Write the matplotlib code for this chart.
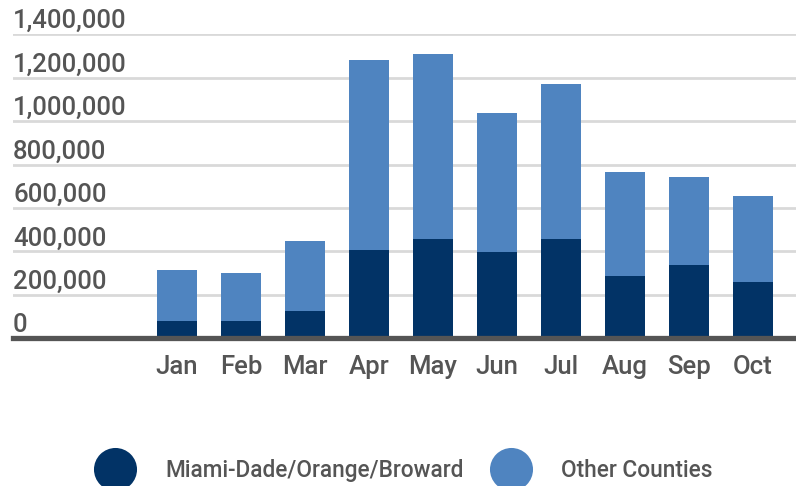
import matplotlib
matplotlib.use("Agg")
import matplotlib.pyplot as plt
import matplotlib.transforms as mtransforms
from matplotlib.lines import Line2D
import numpy as np

months = ["Jan", "Feb", "Mar", "Apr", "May", "Jun", "Jul", "Aug", "Sep", "Oct"]
metro = [81000, 81000, 126000, 407000, 457000, 397000, 457000, 287000, 338000, 259000]
totals = [315000, 301000, 449000, 1283000, 1311000, 1039000, 1172000, 766000, 743000, 655000]
other = [t - m for t, m in zip(totals, metro)]
yticks = [0, 200000, 400000, 600000, 800000, 1000000, 1200000, 1400000]
series_names = ["Miami-Dade/Orange/Broward", "Other Counties"]

DARK = "#023366"
LIGHT = "#4f84c0"
TEXT = "#555555"
GRID = "#d9d9d9"
FONT = ["Roboto", "DejaVu Sans"]
WEIGHT = "medium"

W, H = 796, 486
fig = plt.figure(figsize=(W / 100, H / 100), dpi=100)
left_px, right_px = 13, 796
top_px, zero_px = 34.3, 338.3
ax = fig.add_axes([left_px / W, 1 - zero_px / H, (right_px - left_px) / W, (zero_px - top_px) / H])

x = np.arange(len(months))
ax.bar(x, metro, width=0.625, color=DARK, zorder=3)
ax.bar(x, other, width=0.625, bottom=metro, color=LIGHT, zorder=3)

ax.set_xlim(-2.5625, 9.672)
ax.set_ylim(0, 1400000)

for v in yticks[1:]:
    ax.axhline(v, color=GRID, lw=2.0, zorder=1)

for s in ["top", "right", "left"]:
    ax.spines[s].set_visible(False)
ax.spines["bottom"].set_color("#555555")
ax.spines["bottom"].set_linewidth(3.8)
ax.spines["bottom"].set_zorder(4)

ax.set_yticks([])
ax.set_xticks(x)
ax.set_xticklabels(months, fontsize=18.5, color=TEXT, family=FONT, fontweight=WEIGHT)
ax.tick_params(axis="x", length=0, pad=12)

trans = mtransforms.blended_transform_factory(ax.transAxes, ax.transData) + \
    mtransforms.ScaledTranslation(0, 6 / 100, fig.dpi_scale_trans)
for v in yticks:
    ax.text(0, v, f"{v:,}", transform=trans, ha="left", va="baseline",
            fontsize=18.5, color=TEXT, family=FONT, fontweight=WEIGHT, clip_on=False)

handles = [Line2D([], [], ls="none", marker="o", markersize=31, markerfacecolor=c,
                  markeredgecolor=c, markeredgewidth=0) for c in (DARK, LIGHT)]
leg = fig.legend(handles, series_names, loc="center left", bbox_to_anchor=(93 / W, 1 - 470.5 / H),
                 ncol=2, frameon=False, handlelength=1.9, handletextpad=1.28, columnspacing=1.15,
                 prop={"family": FONT, "size": 16.3, "weight": WEIGHT},
                 borderaxespad=0, borderpad=0)
for t in leg.get_texts():
    t.set_color(TEXT)

fig.savefig("out.png", dpi=100)
